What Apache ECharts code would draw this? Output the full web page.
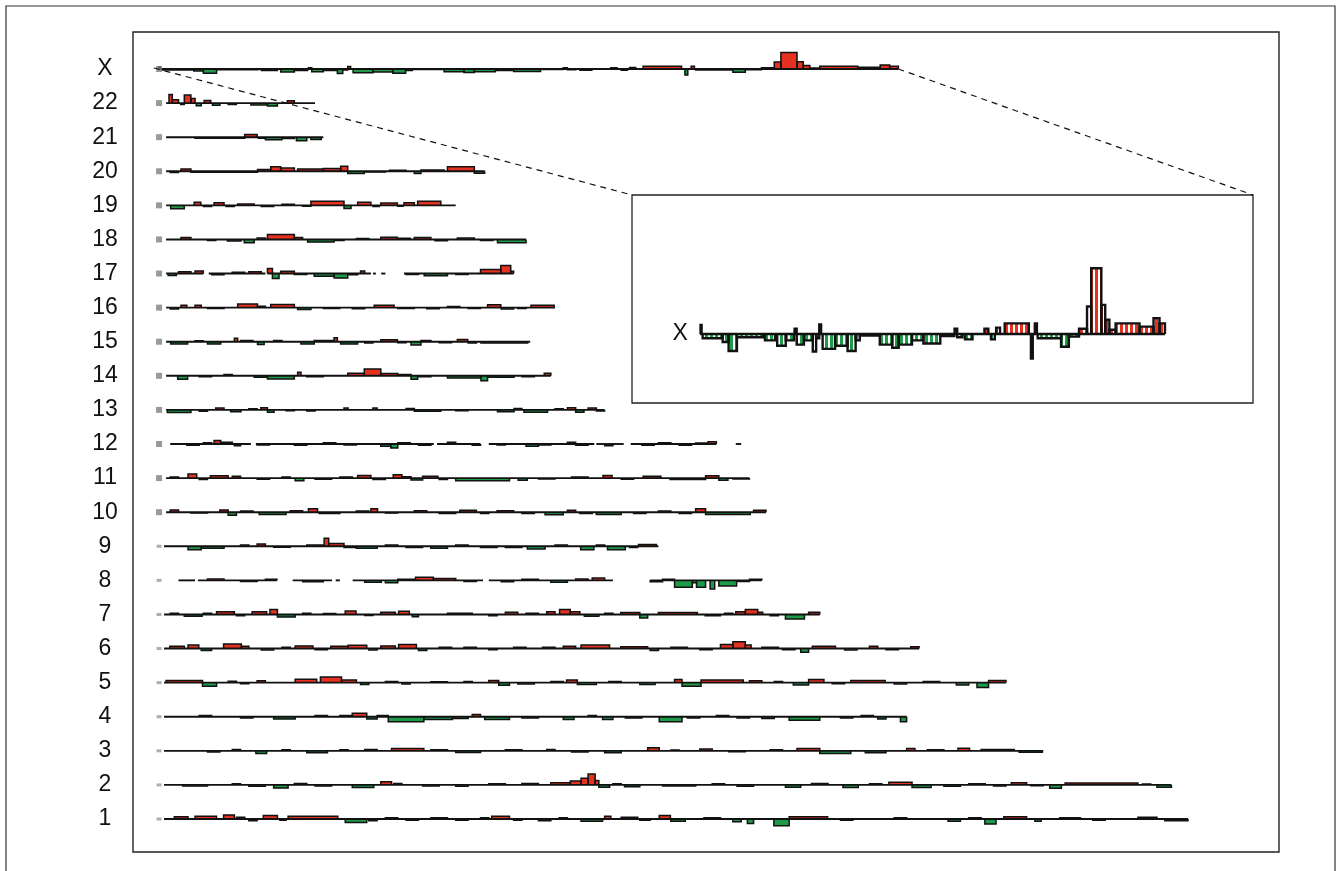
<!DOCTYPE html>
<html><head><meta charset="utf-8">
<script src="https://cdn.jsdelivr.net/npm/echarts/dist/echarts.min.js"></script>
<style>html,body{margin:0;padding:0;background:#fff}#c{width:1338px;height:871px}</style>
</head><body><div id="c"></div>
<script>
// ---- row labels (bottom to top) ----
const rowLabels = ['1','2','3','4','5','6','7','8','9','10','11','12','13','14','15','16','17','18','19','20','21','22','X'];
// ---- chromosome lengths (array position units) ----
const chromLengths = [249,245,214,181,205,184,160,146,121,147,143,141,108,95,90,96,87,89,72,79,40,38,179];
// ---- covered stretches for chromosomes with missing data ----
const coverage8  = [[5,9],[9.7,28.8],[32.6,42.1],[43,44],[47.1,78.6],[80,110],[119,146]];
const coverage12 = [[3,22.5],[23.7,66.7],[67.5,78],[80,105.5],[106,112.6],[114.3,135],[139.7,141]];
const coverage17 = [[2,11],[12.3,26],[26.5,51.5],[52,52.7],[54,55],[59.5,86]];
const coverageX  = [[0,179]];
// ---- segmented log2 ratios: [start, end, value] ----
const chr1 = [[4,7.3,0.17],[9,14.2,0.2],[15.9,18.5,0.3],[19,21,0.14],[22,24,-0.14],[25.5,28.9,0.26],[29.5,31,-0.1],[31.5,43.5,0.2],[45.3,50.5,-0.26],[51,53,-0.14],[55,58,0.1],[60,63,-0.1],[66,70,0.09],[72,75,-0.09],[78,80,0.1],[80.7,85,0.2],[86,88,-0.1],[92,95,-0.14],[97,99,0.1],[102.3,107.5,-0.17],[108,109.5,0.2],[112,116,0.14],[116.5,119,-0.1],[121.2,123.9,0.26],[124,127.5,-0.17],[132,136,0.1],[139,141,-0.2],[142.5,144,-0.34],[148.9,152.6,-0.5],[152.6,161.9,0.17],[165,168,-0.09],[178,181,0.1],[191,194,-0.17],[196,199,0.09],[199.9,202.6,-0.37],[204.5,210,0.17],[212,213.5,-0.17],[218,223,0.1],[226,229,-0.1],[236.9,241.5,0.14],[243.4,249,-0.14]];
const chr2 = [[6,12,-0.09],[18,20,0.09],[22,26,-0.1],[28,31.5,-0.24],[33,36,0.1],[38,42,-0.09],[47,52.2,-0.2],[53.9,56.5,0.24],[57,59,0.1],[64,68,-0.09],[72,75,-0.1],[80,84,0.09],[88,92,0.1],[95,99.7,0.17],[99.7,102.3,0.3],[102.3,104,0.51],[104,105.7,0.82],[105.7,106.6,0.34],[106.6,109.2,-0.17],[110,112,0.09],[112.8,116.5,-0.14],[122,130,-0.09],[134,137,0.09],[140,144,-0.1],[151.7,155.4,-0.17],[158,162,0.1],[165.6,169.3,-0.2],[172,175,0.09],[176.7,182.3,0.2],[182.3,186.9,-0.2],[190,194,-0.1],[196,200,0.09],[202,205,-0.09],[206.3,210,0.17],[211,214,-0.07],[215.6,218.4,-0.26],[219.3,236.9,0.14],[238,240,0.07],[241.5,245,-0.17]];
const chr3 = [[12,15,-0.09],[18,20,0.1],[23.7,26.3,-0.2],[30,32,0.09],[36,41,-0.14],[44,46,0.09],[50,53,0.1],[56.5,64.3,0.17],[66,70,0.09],[72,78,-0.12],[84,88,0.09],[94,96,0.1],[100,104,-0.09],[108,112,-0.14],[118.4,121.2,0.24],[124,126,0.07],[131,134,0.14],[138,142,-0.07],[148,151,0.09],[154.5,160,0.17],[160,167.5,-0.2],[171,176,-0.14],[181,183,0.17],[186,190,0.09],[193.4,196.2,0.2],[199,207,0.1],[208.2,213.8,-0.1]];
const chr4 = [[10,13,0.09],[20,23,-0.09],[28,33.2,-0.17],[38,41,0.09],[44,47,0.1],[47,50.5,0.27],[50.5,53,-0.17],[53,55.7,0.1],[55.7,64.3,-0.37],[64.3,71.2,-0.2],[71.2,75,-0.14],[76,78,0.17],[79,85,-0.2],[88,92,-0.09],[98,100.6,-0.2],[104,106,0.09],[107.5,110,-0.2],[113,117,-0.1],[121.2,126.7,-0.37],[128,131,-0.1],[135,138,0.09],[140,143,-0.09],[146,149,-0.14],[152.6,160,-0.26],[165,168,-0.09],[170,173,0.1],[174,176,-0.17],[179.5,181,-0.37]];
const chr5 = [[2,10.8,0.17],[10.8,14.2,-0.27],[17,19,0.1],[20,22,-0.09],[24,26,0.14],[33.2,38.4,0.26],[39.3,44.4,0.42],[44.4,48,0.2],[49,51,-0.14],[55,58,0.09],[59,61,-0.1],[66,70,0.07],[74,76,0.09],[80,82.4,0.17],[82.4,85,-0.2],[87,91,-0.1],[95,98,0.09],[98.8,101.4,0.2],[101.4,106,-0.14],[109,112,0.09],[116.5,120.2,-0.14],[124.9,126.7,0.24],[126.7,131.3,-0.27],[131.3,141.5,0.2],[143,146,0.14],[149,151,0.09],[153.6,157.3,-0.17],[157.3,161,0.24],[163,166,-0.09],[167.5,175.8,0.17],[178,181,-0.1],[185,189,0.09],[193,196,-0.17],[198,200.8,-0.37],[200.8,205,0.17]];
const chr6 = [[2.9,6.4,0.17],[7.3,9.9,0.26],[10.5,13,-0.14],[15.9,20.2,0.34],[20.2,22,0.17],[25,28,-0.1],[30,32,0.09],[33.2,37.5,0.2],[38,41,-0.09],[41.8,46,0.17],[46,50.5,0.24],[51,53,-0.1],[53.9,57.4,0.2],[58.2,62.5,0.3],[63,65,-0.14],[68,71,0.1],[74,77,0.09],[80,82,-0.09],[86,89,0.1],[93,96,0.09],[98,101,0.17],[102.3,109.2,0.26],[111.9,118.4,0.14],[119,121,-0.14],[124,128,0.09],[131,134,-0.09],[136,139,0.3],[139,142,0.51],[142,143.4,0.26],[146,150,0.1],[151,154,-0.09],[155.4,157.3,-0.27],[158.2,163.8,0.17],[166,169,-0.1],[172,174,0.17],[176,179,-0.09],[182,184,0.14]];
const chr7 = [[3,5,0.1],[6.4,10.7,-0.14],[11,13,0.09],[14.2,18.5,0.2],[19,21,-0.09],[22.8,26.3,0.2],[27.1,28.9,0.37],[28.9,33.2,-0.2],[35,37,0.1],[40,43,0.07],[45.3,47.9,0.26],[50,52,-0.07],[53.9,57.4,0.17],[58.2,60.8,0.24],[61.5,63,-0.17],[70,76,0.1],[80,82,-0.1],[84,87,0.17],[89,92,0.1],[94,96,0.2],[97.1,99.7,0.37],[99.7,102,0.2],[103.1,106.6,-0.14],[108,110,0.09],[111.9,116.5,0.14],[116.5,118.4,-0.26],[121,130.4,0.14],[132.3,136,-0.09],[137,139,0.09],[139.7,142,0.2],[142,145,0.37],[145,146.2,0.17],[148,150,-0.09],[151.7,156.3,-0.34],[157.3,160,0.17]];
const chr8 = [[12,16,0.1],[20,24,-0.09],[26,28.8,0.09],[35,40,-0.1],[50,54,-0.14],[55,58,-0.17],[58,62,0.09],[62.3,66.6,0.24],[66.6,72,0.14],[74,77,-0.09],[83,86,-0.1],[88,92,0.09],[95,99,-0.14],[101,104,0.1],[105,108,0.17],[119,122,-0.1],[122,124.9,0.09],[124.9,129.2,-0.51],[129.2,130.2,-0.17],[130.2,132.4,-0.51],[133.5,134.6,-0.65],[135.6,139.9,-0.42],[140,143,-0.09],[143,146,0.09]];
const chr9 = [[7.3,10.5,-0.27],[10.5,16,-0.14],[20,22,0.1],[24,26,0.17],[28,32,-0.07],[36,40,0.09],[40.2,41.3,0.6],[41.3,45,0.2],[45,48,-0.1],[48,53,-0.14],[55,58,0.09],[60,64,-0.09],[66,70,-0.14],[72,75,0.09],[78,82,-0.1],[84,88,-0.09],[89.3,93.6,-0.2],[96,99,0.09],[102.2,105.4,-0.26],[106,108,0.09],[108.7,113,-0.26],[114,116,-0.09],[116.2,120.5,0.14]];
const chr10 = [[3,5,0.17],[8,12,-0.07],[15,17,0.17],[17,19,-0.24],[20,23,0.09],[24.5,31,-0.17],[32,35,0.1],[36.4,38.6,0.26],[39,44,-0.09],[48,51,0.09],[51.5,53.1,0.26],[55,58,-0.07],[62,65,0.1],[68,72,-0.09],[73,77,0.14],[78,80,-0.1],[82,86,0.1],[88,91,-0.09],[93.6,98,-0.2],[99,101,0.14],[102,105,-0.1],[106,112,-0.17],[115,118,-0.1],[121,124,0.09],[126,129,-0.09],[130,132.4,0.26],[132.4,143.2,-0.17],[144,147,0.14]];
const chr11 = [[3,5,0.09],[7.3,9.4,0.3],[10,12,-0.1],[12.7,17,0.17],[18,20,0.14],[24,27,-0.09],[30,32,0.09],[33.2,35.3,-0.2],[38,42,-0.09],[44,47,0.09],[48.3,51.5,0.2],[52,55,-0.1],[56.9,59,0.26],[59,61.2,0.1],[61.2,64,-0.14],[64,67.7,0.14],[68,70,-0.1],[72,85,-0.2],[87.1,89.3,-0.17],[92,96,-0.07],[100,104,0.09],[107.6,109.8,0.2],[112,115,-0.09],[117.3,121.6,0.14],[123.8,132.4,-0.1],[132.4,135.6,0.17],[135.6,137.8,-0.17],[139,143,-0.07]];
const chr12 = [[7,10,-0.09],[11,13,0.1],[13.6,15.2,0.27],[15.2,18,0.14],[18.5,20,-0.14],[24,27,-0.07],[33,36,-0.1],[40,43,0.09],[45,48,-0.07],[53.9,56.3,-0.17],[56.3,58,-0.3],[58,61,0.09],[63,66,-0.09],[70,72,0.14],[76,78,-0.1],[82,84,-0.07],[89,92,-0.17],[92,95,-0.07],[99,101,0.14],[101,104,-0.09],[108,110,-0.14],[117,120,-0.1],[121,124,0.09],[126,129,-0.09],[130,133,0.07],[133,135,0.17]];
const chr13 = [[2.3,8,-0.2],[10,12,-0.1],[14,16,0.14],[17.6,20.1,-0.14],[22,24,0.09],[24.9,26.5,0.17],[26.5,28.1,-0.17],[31,33,-0.07],[36,38,-0.09],[45,46,0.14],[52,53,0.14],[60,62,0.1],[62,68.4,-0.1],[72,75,-0.07],[82.1,86.1,-0.14],[86.1,88,0.1],[88.5,94.2,-0.17],[96,98,0.09],[99,101,0.17],[101,103,-0.17],[104,106,0.14],[106,108,-0.09]];
const chr14 = [[4.8,7.2,-0.26],[10,13,-0.07],[16,18,0.1],[23.3,26.5,-0.1],[26.5,33,-0.24],[33.8,34.6,0.26],[36,40,-0.07],[45.9,49.9,0.2],[49.9,53.9,0.51],[53.9,58,0.17],[58,61.2,0.1],[61.2,62.8,-0.26],[63,66,-0.07],[70,78.1,-0.17],[78.1,79.7,-0.37],[79.7,86.1,-0.1],[88,91,-0.07],[93.4,95,0.2]];
const chr15 = [[3.1,7.2,-0.17],[9,11,0.07],[12,15.2,-0.17],[18.5,19.3,0.26],[20,23,0.09],[24.1,25.7,-0.2],[28,30,0.1],[34.6,37.8,-0.17],[37.8,42.6,0.1],[42.6,43.4,0.3],[44.2,48.3,-0.17],[50,52,-0.09],[53.9,57.9,0.14],[58,60,-0.07],[61.2,63.6,-0.24],[63.6,66,0.1],[68,71,-0.07],[72.4,74.9,0.17],[75,77,-0.09],[78.1,89.4,-0.1]];
const chr16 = [[3,5,-0.1],[5.6,7,0.17],[9,10.5,0.17],[12,16,-0.07],[19.3,24.1,0.27],[24.1,26,0.1],[27.3,33,0.24],[33.8,37,-0.14],[40,44,-0.07],[47,50,-0.09],[52.3,57.1,0.17],[58,62,-0.07],[65,68,-0.09],[70,73,0.09],[75,78,-0.07],[79.7,82.9,0.22],[83,86,-0.1],[87,89,-0.07],[90.2,95.8,0.17]];
const chr17 = [[2.5,4.5,-0.14],[5,8,0.14],[9,11,0.2],[13,16,-0.09],[18,21,0.1],[22,25,0.14],[26.5,27.7,0.37],[27.7,29.3,-0.37],[29.7,33,0.17],[33,36,-0.07],[37.8,42.6,-0.2],[42.6,45.9,-0.34],[45.9,48.3,-0.1],[49,50,0.2],[60,63,-0.07],[64.4,70,-0.17],[72,75,-0.07],[78,82.9,0.3],[82.9,85.3,0.61],[85.3,86,0.17]];
const chr18 = [[5.6,8,0.14],[12,14,-0.07],[16.8,20.1,-0.12],[20.9,23.3,-0.24],[24,26,0.1],[26.5,33,0.37],[33,35,0.14],[36.2,42.6,-0.2],[42.6,45,-0.07],[48,51,0.07],[53.9,57.9,0.17],[58,61,0.09],[62,66,0.14],[67,70,-0.09],[72.4,76.5,0.1],[78,81,-0.07],[82.1,89,-0.24]];
const chr19 = [[3.1,6.4,-0.26],[8.8,10.4,0.24],[11,13,-0.09],[13.6,16,0.2],[16.5,18.5,-0.09],[19.3,23.3,0.1],[25,28,-0.09],[30,33,0.09],[35,37,-0.07],[37,45,0.3],[45,46.7,-0.24],[48.3,51.5,0.24],[52,53.5,-0.09],[53.9,57.9,0.17],[58,59.3,-0.07],[59.5,62,0.2],[62.8,68.4,0.3]];
const chr20 = [[3,5,-0.09],[5.6,8,0.17],[8,24.1,-0.07],[24.1,27.3,0.14],[27.3,29.7,0.34],[29.7,33,0.24],[33.8,40,0.17],[40,44.2,0.2],[44.2,45.9,0.37],[45.9,49.9,-0.17],[50,55,-0.05],[56,60,0.07],[62,63.6,-0.17],[63.6,69.2,0.09],[70,76.5,0.34],[76.5,79,-0.14]];
const chr21 = [[9,21,-0.09],[21,24,0.2],[24.3,26,-0.09],[26,30,-0.2],[30,33,-0.1],[33.5,36,-0.26],[37,39.5,-0.17]];
const chr22 = [[2.7,3.5,0.65],[3.5,5,0.26],[5.5,6.4,-0.1],[6.4,8,0.6],[8,9,0.34],[9.3,10.5,-0.2],[11.2,12.8,0.2],[13.2,15,-0.17],[17,19,-0.1],[22.5,26.5,-0.14],[26.5,28.9,-0.22],[31.3,33,0.17]];
const chrX = [[0.2,0.6,0.17],[1,8.7,-0.08],[8.7,11,-0.15],[11,14.2,-0.32],[14.2,24.2,-0.06],[25,28.9,-0.12],[29.7,33,-0.22],[33,36.2,-0.12],[36.4,37.2,0.1],[37.2,40,-0.2],[40,43.4,-0.12],[43.4,44.7,-0.33],[44.7,45.9,-0.08],[45.9,46.6,0.18],[47.2,52,-0.28],[52,56.8,-0.22],[56.8,59.9,-0.32],[59.9,61.5,-0.12],[61.5,69.2,-0.03],[69.2,74,-0.2],[74,76.5,-0.26],[76.5,81.6,-0.2],[81.6,86,-0.12],[86,92.5,-0.18],[92.5,97.9,-0.04],[98,99,0.1],[99,101,-0.06],[102,104.9,-0.1],[109.5,111,0.1],[112,113.5,-0.1],[114,115.5,0.12],[117.3,126.6,0.2],[127.4,128.1,-0.46],[128.9,129.7,0.2],[130,139,-0.08],[139,142,-0.24],[142,145.9,-0.05],[145.9,149,0.1],[149,150.6,0.52],[150.6,154.5,1.24],[154.5,156,0.55],[156,157.6,0.27],[157.6,160,0.08],[160,169.2,0.2],[169.2,174.6,0.14],[174.6,176.9,0.3],[176.9,179,0.2]];

const chromSegments = [chr1,chr2,chr3,chr4,chr5,chr6,chr7,chr8,chr9,chr10,chr11,chr12,chr13,chr14,chr15,chr16,chr17,chr18,chr19,chr20,chr21,chr22,chrX];

// ---------- build series data ----------
const RED = '#e5311f', GREEN = '#1e9a48', INK = '#111';
const K = 0.39; // row units per log2 unit in the genome overview
function coverageOf(i){
  if (i === 7) return coverage8;
  if (i === 11) return coverage12;
  if (i === 16) return coverage17;
  if (i === 22) return coverageX;
  return [[i < 9 ? 1.5 : 2, chromLengths[i]]];
}
const baseData = [], segData = [], markData = [];
chromSegments.forEach((segs, i) => {
  const row = i + 1;
  coverageOf(i).forEach(c => baseData.push([row, c[0], c[1]]));
  segs.forEach(s => segData.push([row, s[0], s[1], s[2]]));
  markData.push([0.3, row, i < 9 ? 0 : 1]);
});
const insetBase = coverageX.map(c => [0, c[0], c[1]]);
const insetSeg = chrX.map(s => [0, s[0], s[1], s[2]]);

// vertical-stripe texture for the enlarged inset (individual clone bars look)
function stripe(color){
  const cv = document.createElement('canvas');
  cv.width = 5; cv.height = 4;
  const g = cv.getContext('2d');
  g.fillStyle = '#ffffff'; g.fillRect(0,0,5,4);
  g.fillStyle = color; g.fillRect(0,0,3,4);
  return {image: cv, repeat: 'repeat'};
}
const RED_STRIPE = stripe(RED), GREEN_STRIPE = stripe(GREEN);

function baseRender(scale){
  return function(params, api){
    const r = api.value(0);
    const a = api.coord([api.value(1), r]), b = api.coord([api.value(2), r]);
    return {type:'line', shape:{x1:a[0], y1:a[1], x2:b[0], y2:b[1]},
      style:{stroke:INK, lineWidth: scale === 1 ? 1.9 : 2.6}};
  };
}
function fillRender(scale){
  return function(params, api){
    const r = api.value(0), v = api.value(3);
    const a = api.coord([api.value(1), r]), b = api.coord([api.value(2), r]);
    const t = api.coord([api.value(1), r + v*(scale === 1 ? K : 1)])[1];
    const fill = scale === 1 ? (v > 0 ? RED : GREEN) : (v > 0 ? RED_STRIPE : GREEN_STRIPE);
    return {type:'rect', shape:{x:a[0], y:Math.min(a[1], t), width:b[0]-a[0], height:Math.abs(t-a[1])},
      style:{fill: fill}};
  };
}
function outlineRender(scale){
  return function(params, api){
    const r = api.value(0), v = api.value(3);
    const a = api.coord([api.value(1), r]), b = api.coord([api.value(2), r]);
    const t = api.coord([api.value(1), r + v*(scale === 1 ? K : 1)])[1];
    return {type:'polyline', shape:{points:[[a[0],a[1]],[a[0],t],[b[0],t],[b[0],b[1]]]},
      style:{stroke:INK, fill:null, lineWidth: scale === 1 ? 1.5 : 2.4}};
  };
}

const chart = echarts.init(document.getElementById('c'), null, {renderer:'canvas'});
const FONT = 'Liberation Sans, Arial, Helvetica, sans-serif';
chart.setOption({
  animation:false,
  backgroundColor:'#fff',
  grid:[
    {left:133, right:59, top:34.9, bottom:17.9, show:false},
    {left:632, top:195, width:621, height:208, show:true, borderColor:'#222', borderWidth:1.3, backgroundColor:'#fff'}
  ],
  xAxis:[
    {gridIndex:0, type:'value', min:-6, max:271, show:false},
    {gridIndex:1, type:'value', min:-26.2, max:212.9, show:false}
  ],
  yAxis:[
    {gridIndex:0, type:'value', min:0, max:24, interval:1,
      axisLine:{show:false}, axisTick:{show:false}, splitLine:{show:false},
      axisLabel:{margin:28, align:'center', fontSize:23, fontFamily:FONT, color:'#111',
        formatter: v => (v >= 1 && v <= 23) ? rowLabels[v-1] : ''}},
    {gridIndex:1, type:'value', min:-1.30, max:2.62, show:false}
  ],
  series:[
    {type:'custom', xAxisIndex:0, yAxisIndex:0, renderItem:fillRender(1), data:segData, encode:{x:[1,2], y:0}, z:2},
    {type:'custom', xAxisIndex:0, yAxisIndex:0, renderItem:baseRender(1), data:baseData, encode:{x:[1,2], y:0}, z:3},
    {type:'custom', xAxisIndex:0, yAxisIndex:0, renderItem:outlineRender(1), data:segData, encode:{x:[1,2], y:0}, z:4},
    {type:'scatter', xAxisIndex:0, yAxisIndex:0, data:markData, silent:true, z:5,
      symbol:'rect', symbolSize: (v) => v[2] ? [6,6] : [5,3],
      itemStyle:{color:(p) => p.data[2] ? '#7d827e' : '#9a9a9a'}},
    {type:'custom', xAxisIndex:1, yAxisIndex:1, renderItem:fillRender(2), data:insetSeg, encode:{x:[1,2], y:0}, z:6},
    {type:'custom', xAxisIndex:1, yAxisIndex:1, renderItem:baseRender(2), data:insetBase, encode:{x:[1,2], y:0}, z:7},
    {type:'custom', xAxisIndex:1, yAxisIndex:1, renderItem:outlineRender(2), data:insetSeg, encode:{x:[1,2], y:0}, z:8}
  ]
});

// frames, zoom connectors and the inset label, positioned from the axes
const xStart = chart.convertToPixel({gridIndex:0}, [0, 23]);
const xEnd = chart.convertToPixel({gridIndex:0}, [chromLengths[22], 23]);
const boxTL = chart.convertToPixel({gridIndex:1}, [-26.2, 2.62]);
const boxTR = chart.convertToPixel({gridIndex:1}, [212.9, 2.62]);
const insetLab = chart.convertToPixel({gridIndex:1}, [-7.7, 0]);
const mainTL = chart.convertToPixel({gridIndex:0}, [-6, 24]);
chart.setOption({
  graphic:[
    {type:'rect', shape:{x:6, y:6, width:1329, height:900}, style:{fill:null, stroke:'#333', lineWidth:1.2}, silent:true, z:0},
    {type:'rect', shape:{x:mainTL[0], y:32, width:1146, height:820}, style:{fill:null, stroke:'#222', lineWidth:1.4}, silent:true, z:1},
    {type:'line', shape:{x1:xStart[0]-4, y1:xStart[1]-1, x2:boxTL[0], y2:boxTL[1]}, style:{stroke:'#111', lineWidth:1.2, lineDash:[6,5]}, silent:true, z:10},
    {type:'line', shape:{x1:xEnd[0], y1:xEnd[1], x2:boxTR[0], y2:boxTR[1]}, style:{stroke:'#111', lineWidth:1.2, lineDash:[6,5]}, silent:true, z:10},
    {type:'text', x:insetLab[0], y:insetLab[1], style:{text:'X', fontSize:23, fontFamily:FONT, fill:'#111', textAlign:'center', textVerticalAlign:'middle'}, silent:true, z:20}
  ]
});
</script>
</body></html>
